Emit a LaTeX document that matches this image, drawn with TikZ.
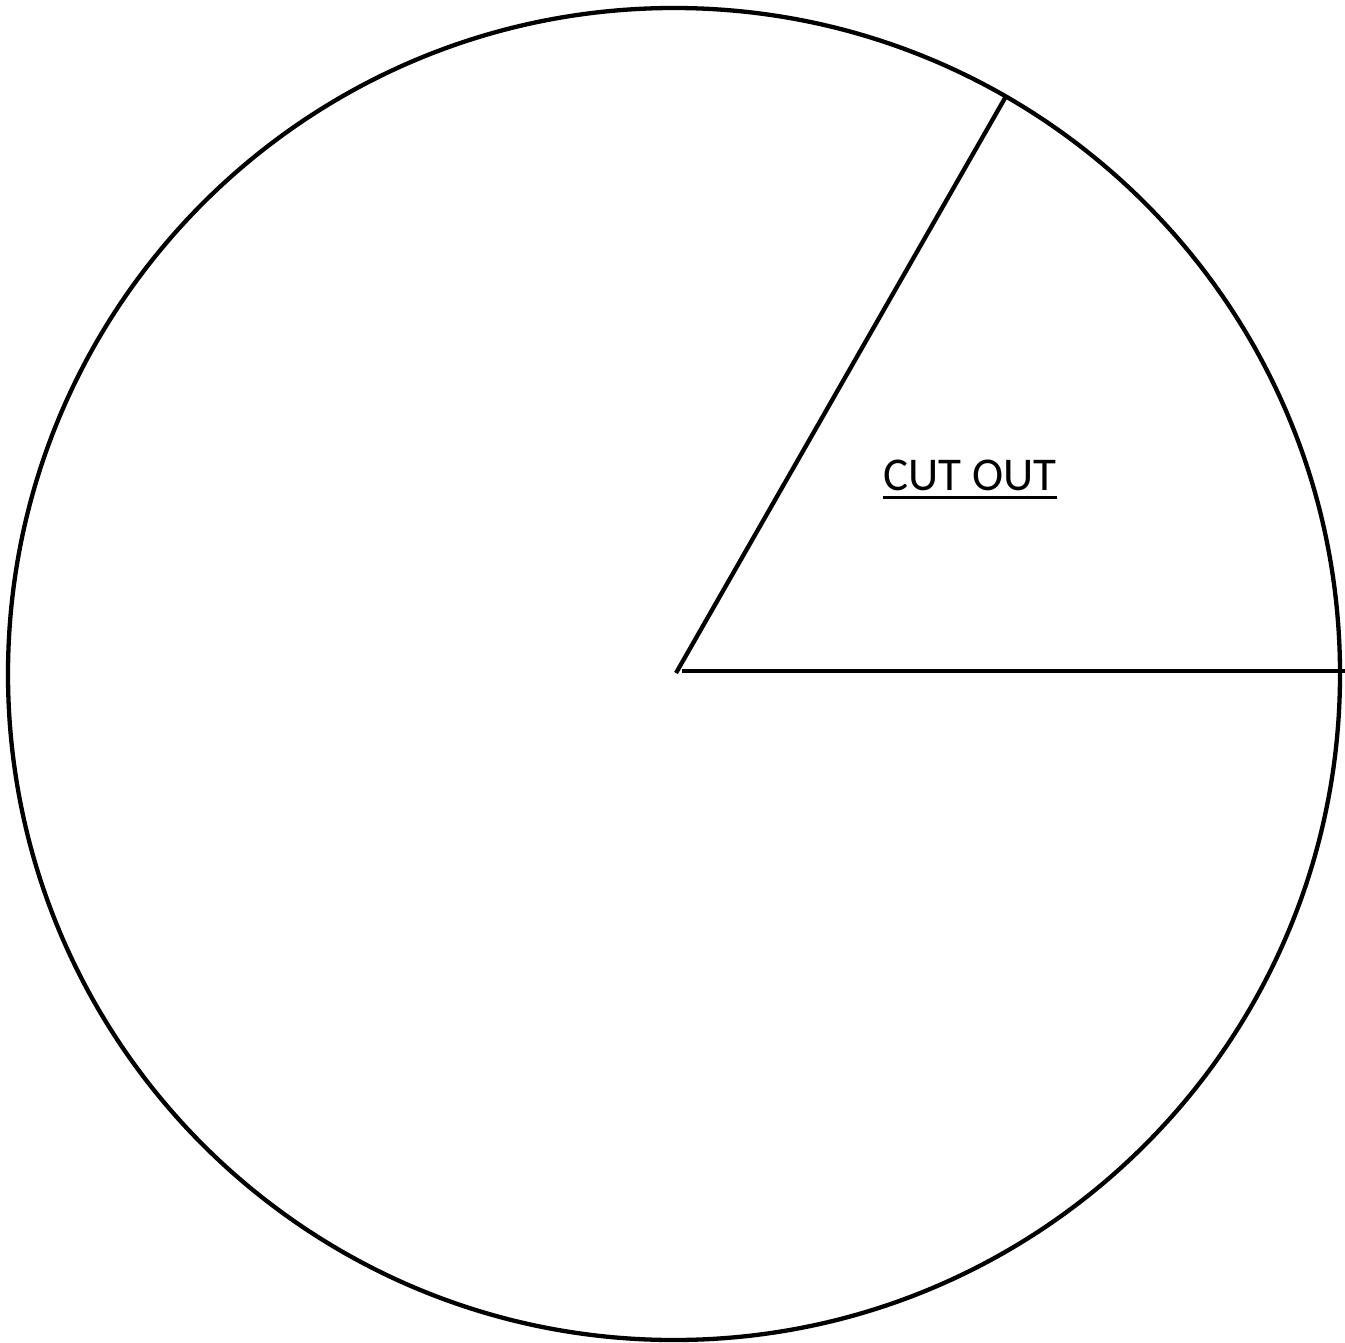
\documentclass[tikz,border=0pt]{standalone}
\usepackage{fontspec}
\setmainfont{Carlito}
\begin{document}
\begin{tikzpicture}[x=1bp,y=-1bp,
  edge/.style={line width=4.3bp,black},
  lbl/.style={font=\fontsize{47bp}{50bp}\selectfont,inner sep=0pt}]
\useasboundingbox (0,0) rectangle (1345,1343);
\draw[edge] (674,674) circle[radius=666];
\coordinate (c) at (676,673);
\coordinate (top) at (1005,98);
\coordinate (h0) at (682,671);
\coordinate (h1) at (1345,671);
\draw[edge] (c) -- (top);
\draw[edge] (h0) -- (h1);
\node[lbl,anchor=base] (t) at (970,490) {CUT OUT};
\draw[line width=3bp] (t.base west) ++(0,7) coordinate (u0) -- (t.base east |- u0);
\end{tikzpicture}
\end{document}
